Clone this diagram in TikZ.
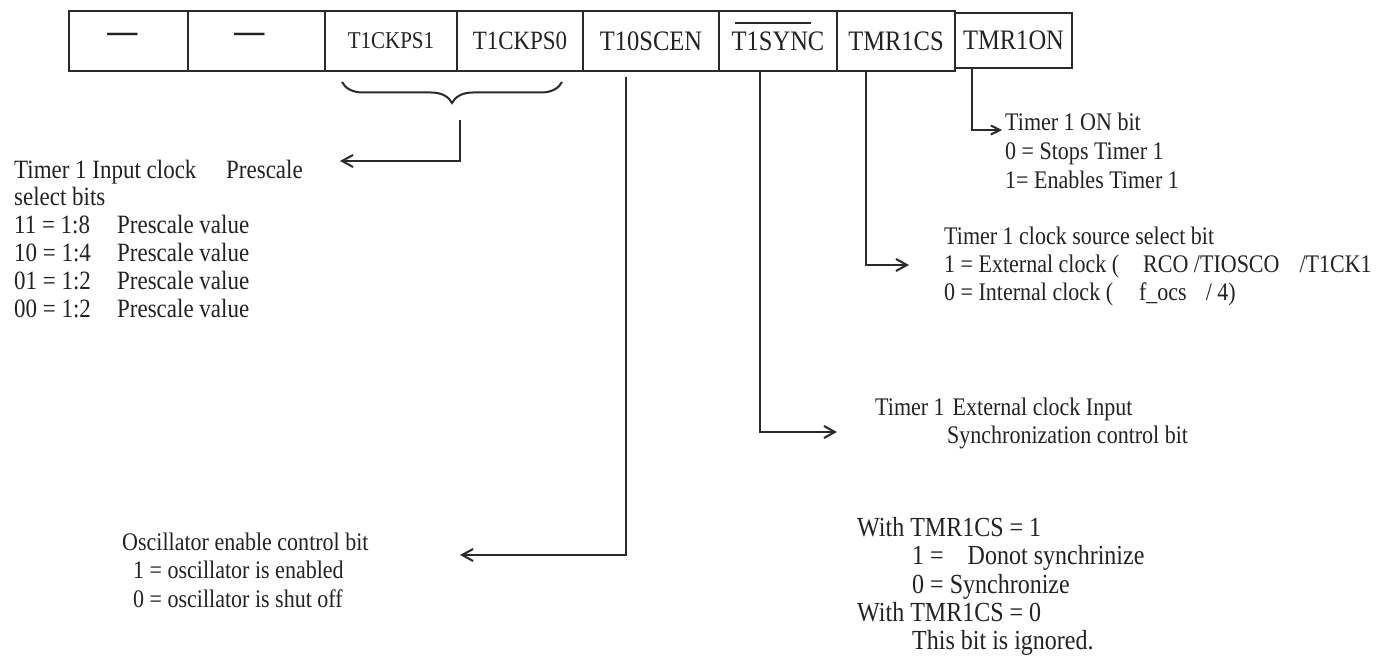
\documentclass[tikz,border=0pt]{standalone}
\usepackage{fontspec}
\setmainfont[FakeStretch=0.87]{Liberation Serif}
\usetikzlibrary{arrows.meta,decorations.pathreplacing}
\definecolor{ink}{HTML}{2A2A2A}
\definecolor{txtc}{HTML}{222222}
\newcommand{\fsz}[1]{\fontsize{#1}{#1}\selectfont}
\begin{document}
\begin{tikzpicture}[x=1pt,y=-1pt,
  wire/.style={draw=ink, line width=2pt},
  arr/.style={wire, -{Straight Barb[length=11pt,width=12pt]}},
  arrsmall/.style={wire, -{Straight Barb[length=9pt,width=9pt]}},
  cell/.style={draw=ink, line width=2pt, minimum height=60pt, inner sep=0pt,
               anchor=north west, text=txtc, font=\fsz{28.2}},
  dashmark/.style={inner sep=0pt, anchor=base, text=txtc, font=\fsz{34.5}\bfseries},
  txt/.style={inner sep=0pt, anchor=base west, text=txtc, font=\fsz{25.3}},
  txtA/.style={txt, font=\fsz{26.4}},
  txtB/.style={txt, font=\fsz{27.6}}]
\useasboundingbox (0,0) rectangle (1385,660);

% register bits
\node[cell, minimum width=119pt] (b7) at (68,10) {};
\node[cell, minimum width=137pt] (b6) at (187,10) {};
\node[cell, minimum width=132pt, font=\fsz{24.1}] (b5) at (324,10) {T1CKPS1};
\node[cell, minimum width=126pt, font=\fsz{26.4}] (b4) at (456,10) {T1CKPS0};
\node[cell, minimum width=136pt] (b3) at (582,10) {T10SCEN};
\node[cell, minimum width=118pt] (b2) at (718,10) {T1SYNC};
\node[cell, minimum width=118pt] (b1) at (836,10) {TMR1CS};
\node[cell, minimum width=117pt, minimum height=55pt] (b0) at (954,12) {TMR1ON};
\node[dashmark] (d7) at (122.5,42.8) {—};
\node[dashmark] (d6) at (249.5,42.8) {—};
% bar over T1SYNC
\draw[wire] (735,23) -- (811,23);

% prescaler brace and its arrow
\draw[wire, decorate, decoration={brace, mirror, amplitude=21pt}] (342,82) -- (562,82);
\coordinate (psTop) at (460,120);
\coordinate (psEnd) at (340,161);
\draw[arr] (psTop) |- (psEnd);

% connectors from the single bits
\coordinate (oscEnd) at (460,555);
\draw[arr] ([xshift=44pt,yshift=-5pt]b3.south west) |- (oscEnd);
\coordinate (syncEnd) at (837,432);
\draw[arr] ([xshift=42pt]b2.south west) |- (syncEnd);
\coordinate (csEnd) at (909,265);
\draw[arr] ([xshift=30pt]b1.south west) |- (csEnd);
\coordinate (onEnd) at (1002,130);
\draw[arrsmall] ([xshift=18pt]b0.south west) |- (onEnd);

% prescaler description
\node[txtA] (ps1) at (14,179) {\makebox[212pt][l]{Timer 1 Input clock}Prescale};
\node[txtA] (ps2) at (14,206) {select bits};
\node[txtA] (ps3) at (14,234) {\makebox[103pt][l]{11 = 1:8}Prescale value};
\node[txtA] (ps4) at (14,262) {\makebox[103pt][l]{10 = 1:4}Prescale value};
\node[txtA] (ps5) at (14,290) {\makebox[103pt][l]{01 = 1:2}Prescale value};
\node[txtA] (ps6) at (14,318) {\makebox[103pt][l]{00 = 1:2}Prescale value};

% TMR1ON description
\node[txt] (on1) at (1005,131) {Timer 1 ON bit};
\node[txt] (on2) at (1005,160) {0 = Stops Timer 1};
\node[txt] (on3) at (1005,189) {1= Enables Timer 1};

% TMR1CS description
\node[txt] (cs1) at (944,245) {Timer 1 clock source select bit};
\node[txt] (cs2) at (944,273) {1 = External clock (\hspace{24pt}RCO /TIOSCO\hspace{20pt}/T1CK1};
\node[txt] (cs3) at (944,301) {0 = Internal clock (\hspace{26pt}f\_ocs\hspace{19pt}/ 4)};

% T1SYNC description
\node[txt] (sy1) at (875,415) {Timer 1\hspace{8pt}External clock Input};
\node[txt] (sy2) at (947,443) {Synchronization control bit};
\node[txtB] (sy3) at (857,536) {With TMR1CS = 1};
\node[txtB] (sy4) at (912,564) {1 =\hspace{24pt}Donot synchrinize};
\node[txtB] (sy5) at (912,593) {0 = Synchronize};
\node[txtB] (sy6) at (857,621) {With TMR1CS = 0};
\node[txtB] (sy7) at (912,649) {This bit is ignored.};

% T10SCEN description
\node[txt] (os1) at (122,550) {Oscillator enable control bit};
\node[txt] (os2) at (133,578) {1 = oscillator is enabled};
\node[txt] (os3) at (133,607) {0 = oscillator is shut off};
\end{tikzpicture}
\end{document}
